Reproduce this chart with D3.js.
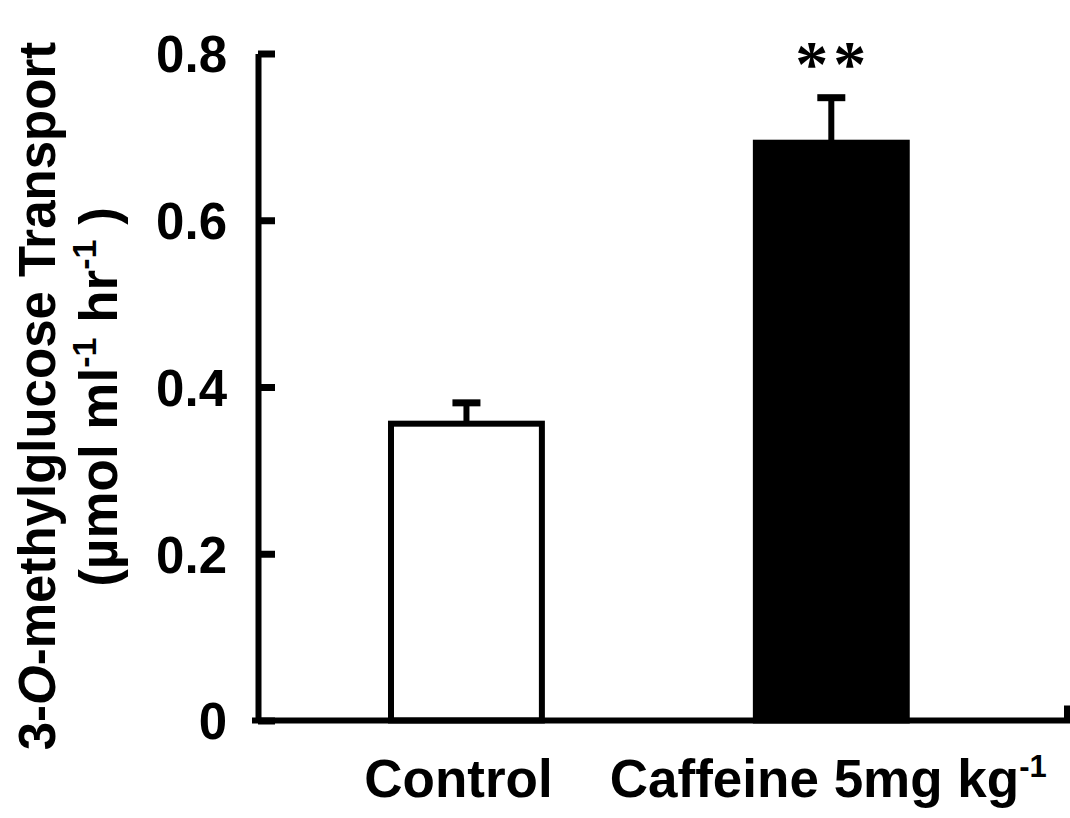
<!DOCTYPE html>
<html>
<head>
<meta charset="utf-8">
<style>
    body { margin: 0; background: #fff; }
    text { font-family: "Liberation Sans", Arial, sans-serif; font-weight: bold; fill: #000; }
</style>
</head>
<body>
<script src="https://cdn.jsdelivr.net/npm/d3@7"></script>
<script>
    // Data
    let groups = ["Control", "Caffeine"];
    let means = [0.356, 0.693];
    let errors = [0.025, 0.054];
    let fills = ["#fff", "#000"];
    let tickValues = [0, 0.2, 0.4, 0.6, 0.8];
    let tickLabels = ["0", "0.2", "0.4", "0.6", "0.8"];
    let marks = ["", "**"];

    let width = 1070, height = 818;
    let svg = d3.select("body").append("svg")
        .attr("width", width)
        .attr("height", height);

    // Scales
    let y = d3.scaleLinear().domain([0, 0.8]).range([720.5, 53.5]);
    let x = d3.scaleBand().domain(groups).range([258, 1068])
        .paddingInner(0.57).paddingOuter(0.395).align(0.451);

    // Bars
    let sw = 6;
    svg.selectAll("rect.bar")
        .data(groups)
        .enter()
        .append("rect")
        .attr("class", "bar")
        .attr("x", (d) => x(d) + sw / 2)
        .attr("y", (d, i) => y(means[i]))
        .attr("width", x.bandwidth() - sw)
        .attr("height", (d, i) => y(0) - y(means[i]))
        .attr("fill", (d, i) => fills[i])
        .attr("stroke", "#000")
        .attr("stroke-width", sw);

    // Error bars
    let cx = (d) => x(d) + x.bandwidth() / 2;
    svg.selectAll("line.stem")
        .data(groups)
        .enter()
        .append("line")
        .attr("x1", cx).attr("x2", cx)
        .attr("y1", (d, i) => y(means[i]))
        .attr("y2", (d, i) => y(means[i] + errors[i]))
        .attr("stroke", "#000")
        .attr("stroke-width", 6);
    svg.selectAll("line.cap")
        .data(groups)
        .enter()
        .append("line")
        .attr("x1", (d) => cx(d) - 14).attr("x2", (d) => cx(d) + 14)
        .attr("y1", (d, i) => y(means[i] + errors[i]))
        .attr("y2", (d, i) => y(means[i] + errors[i]))
        .attr("stroke", "#000")
        .attr("stroke-width", 7);

    // Significance marks
    svg.selectAll("text.sig")
        .data(groups)
        .enter()
        .append("text")
        .attr("x", (d) => cx(d) + 2)
        .attr("y", (d, i) => y(means[i] + errors[i]) - 12)
        .attr("text-anchor", "middle")
        .style("font-family", "'Liberation Serif', 'Times New Roman', serif")
        .style("font-size", "66px")
        .style("letter-spacing", "5px")
        .text((d, i) => marks[i]);

    // Y axis
    let yAxis = svg.append("g")
        .attr("transform", "translate(258,0)")
        .call(d3.axisLeft(y)
            .tickValues(tickValues)
            .tickFormat((d, i) => tickLabels[i])
            .tickSize(-17)
            .tickSizeOuter(0)
            .tickPadding(31));
    yAxis.select(".domain").attr("stroke-width", sw);
    yAxis.selectAll(".tick line").attr("stroke-width", 7);
    yAxis.selectAll(".tick text")
        .style("font-size", "51px")
        .attr("dy", "0.36em");

    // X axis
    let xAxis = svg.append("g")
        .attr("transform", "translate(0,720.5)")
        .call(d3.axisBottom(x).tickSize(0).tickSizeOuter(-15).tickFormat(""));
    xAxis.select(".domain").attr("stroke-width", sw)
        .attr("d", "M252,0H1067V-15");

    // Category labels
    let catText = svg.selectAll("text.cat")
        .data(groups)
        .enter()
        .append("text")
        .attr("x", (d, i) => cx(d) + [-8, -3][i])
        .attr("y", 797)
        .attr("text-anchor", "middle")
        .style("font-size", "53px");
    catText.filter((d, i) => i === 0).text("Control");
    let caf = catText.filter((d, i) => i === 1);
    caf.append("tspan").text("Caffeine 5mg kg");
    caf.append("tspan").attr("dy", -20).style("font-size", "31px").text("-1");

    // Y axis title
    let title = svg.append("g")
        .attr("transform", "translate(55,396) rotate(-90)")
        .append("text")
        .attr("text-anchor", "middle")
        .style("font-size", "51px");
    let t1 = title.append("tspan").attr("x", 0).attr("y", 0);
    t1.append("tspan").text("3-");
    t1.append("tspan").style("font-style", "italic").text("O");
    t1.append("tspan").text("-methylglucose Transport");
    let t2 = svg.append("g")
        .attr("transform", "translate(117,397) rotate(-90)")
        .append("text")
        .attr("text-anchor", "middle")
        .style("font-size", "53px");
    t2.append("tspan").text("(µmol ml");
    t2.append("tspan").attr("dy", -21).style("font-size", "34px").text("-1");
    t2.append("tspan").attr("dy", 21).text(" hr");
    t2.append("tspan").attr("dy", -21).style("font-size", "34px").text("-1");
    t2.append("tspan").attr("dy", 21).text("  )");
</script>
</body>
</html>
